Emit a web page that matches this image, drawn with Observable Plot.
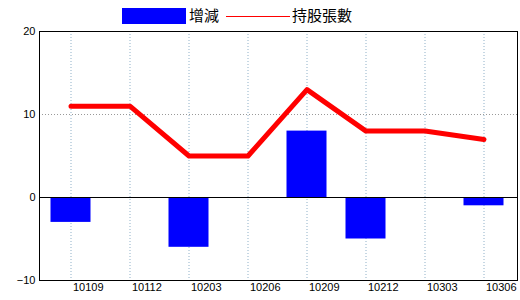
<!DOCTYPE html>
<html>
<head>
<meta charset="utf-8">
<script src="https://cdn.jsdelivr.net/npm/d3@7"></script>
<script src="https://cdn.jsdelivr.net/npm/@observablehq/plot@0.6"></script>
<style>
  html, body { margin: 0; padding: 0; background: #fff; }
  #wrap { position: relative; width: 520px; height: 300px; }
  #legend { position: absolute; left: 0; top: 0; width: 520px; height: 30px; font-family: "Noto Sans CJK TC", sans-serif; font-size: 15px; color: #000; }
  #legend .sw { position: absolute; }
  #legend .lbl { position: absolute; top: 5px; line-height: 22px; }
</style>
</head>
<body>
<div id="wrap">
  <div id="chart"></div>
  <div id="legend">
    <div class="sw" style="left:122px; top:8px; width:64px; height:16px; background:#0000ff;"></div>
    <div class="lbl" style="left:189px; top:4px;">增減</div>
    <div class="sw" style="left:226px; top:16px; width:64px; height:1px; background:#ff0000;"></div>
    <div class="lbl" style="left:292px; top:4px;">持股張數</div>
  </div>
</div>
<script>
const categories = ["10109", "10112", "10203", "10206", "10209", "10212", "10303", "10306"];
const changes = [-3, 0, -6, 0, 8, -5, 0, -1];
const holdings = [11, 11, 5, 5, 13, 8, 8, 7];
const yTicks = [-10, 0, 10, 20];
const yDomain = [-10, 20];

const data = categories.map((c, i) => ({cat: c, change: changes[i], hold: holdings[i]}));

const chart = Plot.plot({
  width: 520,
  height: 300,
  marginLeft: 39,
  marginRight: 3,
  marginTop: 31,
  marginBottom: 20,
  style: {fontFamily: "Liberation Sans, sans-serif", fontSize: "11px", background: "white", color: "black", overflow: "visible"},
  x: {type: "band", domain: categories, padding: 0, insetLeft: 1.5, insetRight: 4.5, label: null},
  y: {domain: yDomain, label: null},
  marks: [
    Plot.ruleX(categories, {x: d => d, stroke: "#8fb0c8", strokeDasharray: "1,2"}),
    Plot.ruleY([10], {stroke: "#999", strokeDasharray: "1,2"}),
    Plot.barY(data, {x: "cat", y: "change", fill: "#0000ff", insetLeft: 9.5, insetRight: 9.5}),
    Plot.ruleY([0], {stroke: "black", strokeWidth: 1.2}),
    Plot.lineY(data, {x: "cat", y: "hold", stroke: "#ff0000", strokeWidth: 5, strokeLinecap: "round", strokeLinejoin: "round"}),
    Plot.frame({stroke: "black"}),
    Plot.axisX({tickSize: 0, tickPadding: 3, textAnchor: "start", dx: 2, fontSize: 11}),
    Plot.axisY({ticks: yTicks, tickSize: 0, tickPadding: 4, fontSize: 11})
  ]
});
document.getElementById("chart").appendChild(chart);
</script>
</body>
</html>
